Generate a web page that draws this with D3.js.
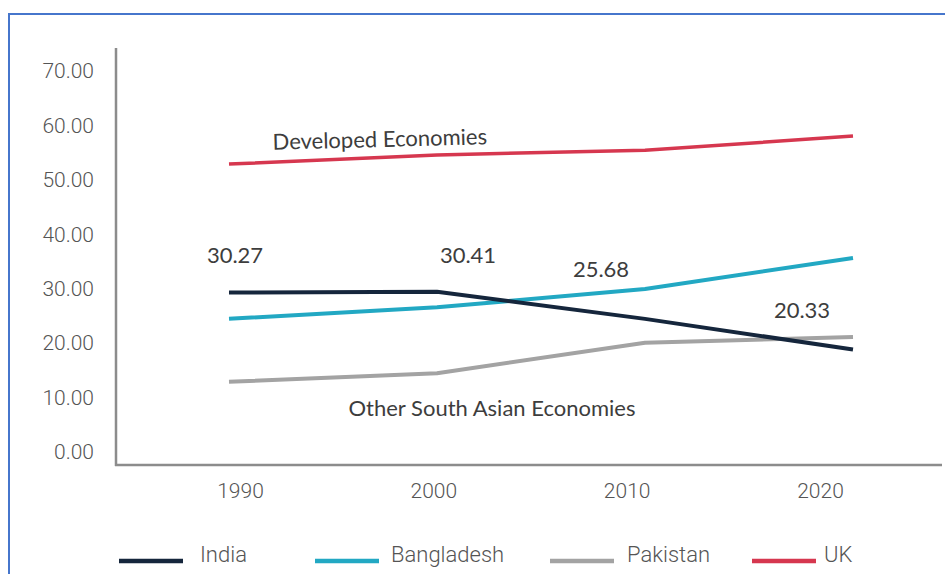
<!DOCTYPE html>
<html>
<head>
<meta charset="utf-8">
<script src="https://cdn.jsdelivr.net/npm/d3@7"></script>
<style>
  html, body { margin: 0; padding: 0; background: #fff; }
  svg { display: block; }
  .narrow { font-family: Roboto, "Noto Sans", sans-serif; font-weight: 300; }
  .wide { font-family: Lato, "Open Sans", sans-serif; }
</style>
</head>
<body>
<svg id="chart" width="945" height="574"></svg>
<script>
// Decades on the horizontal axis
const years = ["1990", "2000", "2010", "2020"];

// Series values per decade
const india      = [30.27, 30.41, 25.68, 20.33];
const bangladesh = [25.7, 27.7, 30.9, 36.3];
const pakistan   = [14.7, 16.2, 21.5, 22.5];
const uk         = [52.7, 54.3, 55.1, 57.6];

const seriesNames  = ["India", "Bangladesh", "Pakistan", "UK"];
const seriesColors = ["#15263c", "#22a8c3", "#a3a3a3", "#d6374f"];

// Vertical axis tick labels
const yTicks = [0, 10, 20, 30, 40, 50, 60, 70];

// Value labels shown for India, with their offsets from the point
const labelOffsets = [[6, -30], [31, -29], [-44, -42], [-51, -32]];

const svg = d3.select("#chart");

// Outer frame
svg.append("rect")
  .attr("x", 9).attr("y", 14)
  .attr("width", 980).attr("height", 600)
  .attr("fill", "none")
  .attr("stroke", "#4676cc")
  .attr("stroke-width", 2);

// Scales for the plotted lines
const x = d3.scalePoint().domain(years).range([229, 853]);
const y = d3.scaleLinear().domain([0, 70]).range([466, 65]);

// Scales for the axis labelling
const xAxisScale = d3.scalePoint().domain(years).range([240, 820]);
const yAxisScale = d3.scaleLinear().domain([0, 70]).range([452, 71]);

// Axis lines
svg.append("line")
  .attr("x1", 116).attr("x2", 116).attr("y1", 48).attr("y2", 466)
  .attr("stroke", "#8c8c8c").attr("stroke-width", 2.5);
svg.append("line")
  .attr("x1", 115).attr("x2", 942).attr("y1", 465).attr("y2", 465)
  .attr("stroke", "#8c8c8c").attr("stroke-width", 2.5);

// Y tick labels
const yAxis = svg.append("g")
  .attr("class", "narrow")
  .attr("transform", "translate(94,0)")
  .call(d3.axisLeft(yAxisScale).tickValues(yTicks).tickFormat(d3.format(".2f")).tickSize(0).tickPadding(0));
yAxis.select(".domain").remove();
yAxis.selectAll("text")
  .attr("font-size", 21).attr("fill", "#555")
  .attr("font-family", null);

// X tick labels
const xAxis = svg.append("g")
  .attr("class", "narrow")
  .attr("transform", "translate(0,482)")
  .call(d3.axisBottom(xAxisScale).tickSize(0).tickPadding(0));
xAxis.select(".domain").remove();
xAxis.selectAll("text")
  .attr("font-size", 21).attr("fill", "#555")
  .attr("font-family", null)
  .attr("dy", "0.75em");

// Lines
const allSeries = [india, bangladesh, pakistan, uk];
const line = d3.line()
  .x((d, i) => x(years[i]))
  .y(d => y(d));

// Draw order: UK, Pakistan, Bangladesh, India on top
[3, 2, 1, 0].forEach(k => {
  svg.append("path")
    .datum(allSeries[k])
    .attr("d", line)
    .attr("fill", "none")
    .attr("stroke", seriesColors[k])
    .attr("stroke-width", k === 3 ? 3.5 : 4)
    .attr("stroke-linecap", "butt")
    .attr("stroke-linejoin", "round");
});

// Value labels for India
svg.append("g").attr("class", "wide")
  .selectAll("text")
  .data(india)
  .join("text")
  .attr("x", (d, i) => x(years[i]) + labelOffsets[i][0])
  .attr("y", (d, i) => y(d) + labelOffsets[i][1])
  .attr("text-anchor", "middle")
  .attr("font-size", 22)
  .attr("fill", "#3d3d3d")
  .text(d => d3.format(".2f")(d));

// Group annotations
svg.append("text")
  .attr("class", "wide")
  .attr("transform", "translate(380,147) rotate(-1.5)")
  .attr("text-anchor", "middle")
  .attr("font-size", 22)
  .attr("fill", "#3d3d3d")
  .text("Developed Economies");

svg.append("text")
  .attr("class", "wide")
  .attr("x", 492).attr("y", 416)
  .attr("text-anchor", "middle")
  .attr("font-size", 22)
  .attr("fill", "#3d3d3d")
  .text("Other South Asian Economies");

// Legend
const legendX = [119, 315, 550, 752];
const legend = svg.append("g").attr("class", "narrow")
  .selectAll("g")
  .data(seriesNames)
  .join("g")
  .attr("transform", (d, i) => `translate(${legendX[i]},0)`);
legend.append("line")
  .attr("x1", 0).attr("x2", 64)
  .attr("y1", 561).attr("y2", 561)
  .attr("stroke", (d, i) => seriesColors[i])
  .attr("stroke-width", 4.5);
legend.append("text")
  .attr("x", (d, i) => [81, 76, 77, 72][i])
  .attr("y", 562)
  .attr("font-size", 22)
  .attr("fill", "#555")
  .text(d => d);
</script>
</body>
</html>
